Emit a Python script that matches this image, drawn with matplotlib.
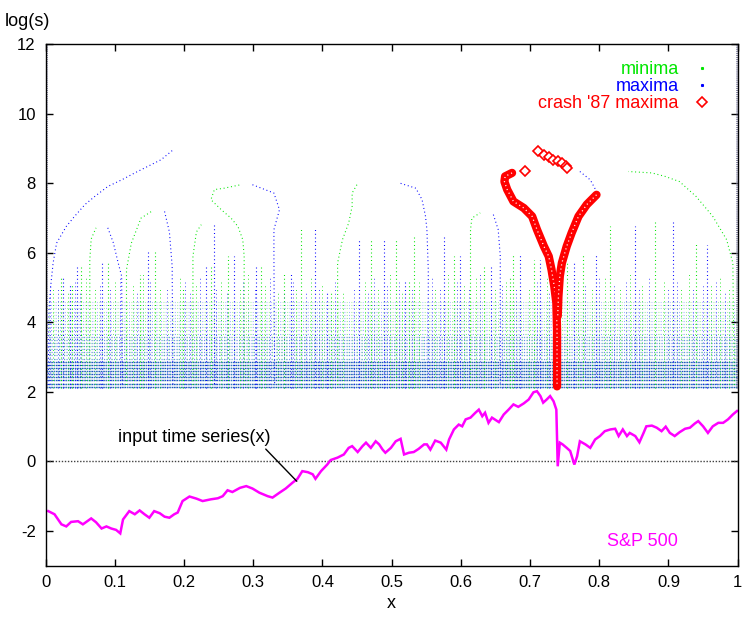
import numpy as np
import matplotlib
matplotlib.use("Agg")
import matplotlib.pyplot as plt
from matplotlib.lines import Line2D

plt.rcParams['font.family'] = ['Liberation Sans', 'DejaVu Sans']
plt.rcParams['lines.scale_dashes'] = False
plt.rcParams['axes.unicode_minus'] = False

# ---- input time series (S&P 500) ----
sp_x = [0.004, 0.013, 0.023, 0.030, 0.037, 0.047, 0.054, 0.066, 0.073, 0.081, 0.088, 0.095,
        0.102, 0.108, 0.112, 0.121, 0.129, 0.136, 0.143, 0.150, 0.157, 0.165, 0.172, 0.179,
        0.186, 0.191, 0.198, 0.208, 0.218, 0.227, 0.239, 0.249, 0.256, 0.263, 0.270, 0.281,
        0.290, 0.299, 0.309, 0.321, 0.328, 0.338, 0.347, 0.357, 0.364, 0.371, 0.379, 0.386,
        0.390, 0.398, 0.407, 0.412, 0.422, 0.431, 0.438, 0.443, 0.451, 0.458, 0.463, 0.470,
        0.477, 0.482, 0.487, 0.491, 0.499, 0.506, 0.513, 0.518, 0.525, 0.532, 0.539, 0.547,
        0.551, 0.556, 0.563, 0.571, 0.579, 0.583, 0.590, 0.597, 0.602, 0.607, 0.614, 0.621,
        0.626, 0.631, 0.635, 0.640, 0.645, 0.655, 0.662, 0.669, 0.676, 0.683, 0.691, 0.698,
        0.705, 0.710, 0.715, 0.719, 0.724, 0.729, 0.734, 0.738, 0.739, 0.740, 0.743, 0.747,
        0.753, 0.758, 0.764, 0.768, 0.772, 0.780, 0.787, 0.794, 0.801, 0.808, 0.816, 0.823,
        0.828, 0.834, 0.840, 0.844, 0.852, 0.858, 0.864, 0.868, 0.876, 0.883, 0.890, 0.896,
        0.902, 0.909, 0.916, 0.924, 0.931, 0.938, 0.943, 0.950, 0.957, 0.964, 0.972, 0.979,
        0.986, 0.993, 0.999]
sp_y = [-1.43, -1.52, -1.81, -1.87, -1.74, -1.72, -1.81, -1.64, -1.75, -1.93, -1.87, -1.93,
        -1.97, -2.07, -1.67, -1.43, -1.52, -1.41, -1.52, -1.62, -1.43, -1.49, -1.59, -1.62,
        -1.52, -1.47, -1.14, -1.01, -1.07, -1.14, -1.09, -1.06, -1.00, -0.83, -0.88, -0.76,
        -0.71, -0.78, -0.90, -1.00, -1.04, -0.90, -0.78, -0.61, -0.50, -0.28, -0.31, -0.37,
        -0.50, -0.28, -0.09, 0.04, 0.11, 0.20, 0.39, 0.44, 0.27, 0.44, 0.54, 0.39,
        0.58, 0.49, 0.34, 0.25, 0.39, 0.58, 0.65, 0.20, 0.25, 0.27, 0.36, 0.49,
        0.49, 0.34, 0.60, 0.54, 0.34, 0.63, 0.92, 1.06, 1.01, 1.21, 1.26, 1.40,
        1.49, 1.30, 1.40, 1.11, 1.26, 1.13, 1.35, 1.49, 1.64, 1.57, 1.67, 1.78,
        1.99, 2.02, 1.88, 1.69, 1.78, 1.88, 1.73, 1.49, 0.63, -0.14, 0.54, 0.49,
        0.39, 0.30, -0.09, 0.15, 0.58, 0.49, 0.39, 0.63, 0.73, 0.87, 0.92, 0.94,
        0.73, 0.92, 0.73, 0.82, 0.73, 0.55, 0.82, 1.01, 1.03, 0.97, 0.87, 1.00,
        0.82, 0.73, 0.84, 0.94, 0.97, 1.09, 1.16, 1.01, 0.82, 1.01, 1.11, 1.11,
        1.21, 1.35, 1.45]

# ---- small-scale part of the maxima/minima lines: rows of dots at these log(s) ----
band_levels = [2.15, 2.24, 2.33, 2.42, 2.51, 2.60, 2.69, 2.78, 2.87, 2.96, 3.05, 3.14,
               3.23, 3.32, 3.41, 3.50, 3.59, 3.68, 3.77, 3.86, 3.95, 4.04, 4.13, 4.22,
               4.31, 4.40, 4.49, 4.58]

# ---- short lines ending between log(s)=4.6 and 5.5 ----
fringe_min_x = [0.011, 0.033, 0.059, 0.071, 0.100, 0.127, 0.141, 0.165, 0.194, 0.218, 0.254,
                0.281, 0.293, 0.317, 0.336, 0.362, 0.383, 0.400, 0.430, 0.462, 0.480, 0.497,
                0.515, 0.540, 0.562, 0.582, 0.605, 0.622, 0.650, 0.665, 0.698, 0.725, 0.770,
                0.790, 0.808, 0.830, 0.845, 0.862, 0.893, 0.918, 0.930, 0.962, 0.975, 0.988]
fringe_min_top = [5.0, 4.9, 5.3, 5.0, 5.2, 5.1, 5.4, 5.0, 5.3, 5.1, 5.2,
                  5.0, 5.4, 5.1, 4.9, 5.0, 5.3, 5.1, 4.9, 5.2, 5.0, 5.4,
                  4.9, 5.2, 5.0, 5.4, 5.1, 5.3, 5.0, 5.2, 5.0, 5.3, 5.2,
                  5.0, 5.3, 5.0, 5.4, 5.1, 5.2, 5.0, 5.4, 5.1, 5.3, 5.0]
fringe_max_x = [0.006, 0.018, 0.043, 0.050, 0.079, 0.093, 0.108, 0.132, 0.151, 0.175, 0.202,
                0.209, 0.223, 0.247, 0.262, 0.286, 0.303, 0.324, 0.344, 0.358, 0.376, 0.395,
                0.418, 0.446, 0.466, 0.475, 0.493, 0.510, 0.530, 0.558, 0.570, 0.595, 0.612,
                0.628, 0.660, 0.680, 0.710, 0.728, 0.780, 0.800, 0.822, 0.838, 0.858, 0.872,
                0.900, 0.912, 0.935, 0.950, 0.968, 0.982]
fringe_max_top = [5.1, 5.0, 5.2, 4.9, 5.1, 5.0, 5.3, 4.9, 5.2, 5.0, 5.2,
                  4.9, 5.3, 5.0, 4.9, 5.2, 5.0, 5.3, 5.0, 5.2, 4.9, 5.0,
                  5.2, 5.0, 4.9, 5.3, 5.1, 5.2, 5.0, 5.3, 5.0, 5.2, 5.0,
                  5.4, 5.1, 5.0, 5.2, 4.9, 5.1, 5.3, 5.1, 5.2, 5.0, 5.3,
                  5.0, 5.2, 5.0, 5.1, 5.2, 4.9]

# ---- taller lines: x position and top log(s) ----
min_x = [0.023, 0.039, 0.052, 0.090, 0.136, 0.158, 0.199, 0.239, 0.263, 0.311, 0.345, 0.369,
         0.412, 0.470, 0.506, 0.525, 0.532, 0.590, 0.633, 0.671, 0.676, 0.705, 0.753, 0.777,
         0.816, 0.880, 0.940]
min_top = [5.34, 5.14, 5.66, 5.72, 5.37, 6.09, 5.00, 5.66, 5.90, 5.66, 5.43, 6.70,
           4.90, 6.43, 6.43, 5.20, 6.47, 5.90, 5.60, 5.30, 6.00, 5.80, 5.70, 6.00,
           6.76, 6.90, 6.30]
max_x = [0.026, 0.035, 0.045, 0.081, 0.148, 0.232, 0.273, 0.304, 0.354, 0.390, 0.407, 0.453,
         0.489, 0.520, 0.575, 0.599, 0.643, 0.686, 0.715, 0.763, 0.796, 0.852, 0.907, 0.955]
max_top = [5.34, 5.14, 5.66, 5.72, 6.09, 5.66, 5.90, 5.66, 5.43, 6.70, 4.90, 6.43,
           6.43, 5.20, 6.47, 5.90, 5.60, 6.00, 5.80, 5.70, 6.00, 6.76, 6.90, 6.24]

# ---- curved large-scale lines (x, log(s)) ----
min_curves = [
    [(0.064, 2.2), (0.064, 5.8), (0.066, 6.4), (0.073, 6.72)],
    [(0.117, 2.2), (0.117, 5.52), (0.124, 6.28), (0.138, 7.0), (0.153, 7.19)],
    [(0.213, 2.2), (0.213, 5.9), (0.218, 6.6), (0.225, 6.81)],
    [(0.287, 2.2), (0.287, 5.90), (0.285, 6.38), (0.278, 6.76), (0.268, 7.0), (0.254, 7.24),
     (0.239, 7.53), (0.244, 7.82), (0.258, 7.86), (0.282, 7.96)],
    [(0.422, 2.2), (0.422, 5.71), (0.429, 6.38), (0.438, 6.86), (0.443, 7.34), (0.443, 7.72),
     (0.451, 8.0)],
    [(0.614, 2.2), (0.614, 6.67), (0.616, 7.0), (0.628, 7.15)],
    [(0.995, 2.2), (0.993, 5.71), (0.984, 6.38), (0.964, 7.05), (0.940, 7.62), (0.916, 8.05),
     (0.895, 8.20), (0.876, 8.30), (0.842, 8.34)],
]
max_curves = [
    [(0.004, 2.2), (0.005, 4.37), (0.008, 5.14), (0.011, 5.71), (0.016, 6.28), (0.030, 6.76),
     (0.042, 7.05), (0.057, 7.39), (0.071, 7.62), (0.090, 7.91), (0.110, 8.10), (0.129, 8.30),
     (0.148, 8.49), (0.167, 8.68), (0.186, 8.99)],
    [(0.090, 6.72), (0.098, 6.29), (0.105, 5.71), (0.110, 5.33), (0.111, 2.2)],
    [(0.172, 7.19), (0.179, 6.6), (0.183, 5.61), (0.184, 2.2)],
    [(0.244, 6.81), (0.244, 2.2)],
    [(0.299, 7.96), (0.330, 7.72), (0.338, 7.24), (0.330, 6.67), (0.330, 5.90), (0.331, 2.2)],
    [(0.513, 8.0), (0.535, 7.86), (0.544, 7.53), (0.549, 7.05), (0.551, 6.67), (0.553, 5.5),
     (0.553, 2.2)],
    [(0.647, 7.1), (0.654, 6.67), (0.657, 5.9), (0.657, 2.2)],
    [(0.772, 8.34), (0.787, 8.10), (0.796, 7.77)],
]

# ---- crash '87 maxima line ----
crash_left = [(0.674, 8.30), (0.664, 8.20), (0.663, 8.05), (0.667, 7.82), (0.676, 7.48),
              (0.691, 7.29), (0.703, 7.05), (0.710, 6.67), (0.720, 6.19), (0.727, 5.90),
              (0.731, 5.52), (0.735, 5.04), (0.738, 4.56), (0.739, 3.79), (0.739, 2.16)]
crash_right = [(0.796, 7.67), (0.782, 7.39), (0.770, 7.05), (0.760, 6.57), (0.753, 6.19),
               (0.746, 5.71), (0.743, 5.33), (0.741, 4.75), (0.740, 4.18)]
crash_top = [(0.692, 8.36), (0.712, 8.92), (0.720, 8.82), (0.727, 8.76), (0.733, 8.68),
             (0.740, 8.63), (0.746, 8.58), (0.752, 8.51), (0.753, 8.44)]

GREEN = '#00e600'
BLUE = '#0000ff'
RED = '#ff0000'
MAG = '#ff00ff'
BASE = 2.12
DOTS = (0, (0.7, 2.0))

fig = plt.figure(figsize=(7.44, 6.25), dpi=100)
ax = fig.add_axes([45.5 / 744, 59.3 / 625, 692.2 / 744, 521.4 / 625])

# rows of dots at small scales: dense near the bottom, sparser higher up
for lev in band_levels:
    if lev < 2.9:
        ax.hlines(lev, 0, 1, colors='#1848c0', linewidth=1.0, alpha=0.95,
                  linestyles=[(0, (1.2, 0.5))])
        ax.hlines(lev, 0, 1, colors='#40d0a0', linewidth=1.0, alpha=0.6,
                  linestyles=[(1.2, (0.5, 1.7))])
    elif lev < 3.6:
        ax.hlines(lev, 0, 1, colors='#3060e0', linewidth=0.9, alpha=0.7,
                  linestyles=[(0, (0.8, 1.0))])
        ax.hlines(lev, 0, 1, colors='#40e060', linewidth=0.9, alpha=0.6,
                  linestyles=[(0.8, (0.6, 2.8))])
    else:
        a = float(np.interp(lev, [3.6, 4.6], [0.7, 0.4]))
        ax.hlines(lev, 0, 1, colors='#4060ff', linewidth=0.8, alpha=a,
                  linestyles=[(0, (0.7, 2.6))])
        ax.hlines(lev, 0, 1, colors='#30e030', linewidth=0.8, alpha=a,
                  linestyles=[(1.6, (0.7, 2.6))])

# individual lines
ax.vlines(fringe_min_x, BASE, fringe_min_top, colors=GREEN, linewidth=0.7, alpha=0.8,
          linestyles=[DOTS])
ax.vlines(fringe_max_x, BASE, fringe_max_top, colors=BLUE, linewidth=0.7, alpha=0.7,
          linestyles=[DOTS])
ax.vlines(min_x, BASE, min_top, colors=GREEN, linewidth=0.8, linestyles=[DOTS])
ax.vlines(max_x, BASE, max_top, colors=BLUE, linewidth=0.8, linestyles=[DOTS])
for c in min_curves:
    xs, ys = zip(*c)
    ax.plot(xs, ys, color=GREEN, lw=0.8, ls=DOTS)
for c in max_curves:
    xs, ys = zip(*c)
    ax.plot(xs, ys, color=BLUE, lw=0.8, ls=DOTS)

# edge lines at x=0 and x=1
ax.vlines([0.001, 0.999], BASE, 12, colors='#8080a0', linewidth=2.0, linestyles=[(0, (0.7, 0.7))])

# crash maxima line
for br in (crash_left, crash_right):
    xs, ys = zip(*br)
    ax.plot(xs, ys, color=RED, lw=6, solid_capstyle='round', solid_joinstyle='round')
    ax.plot(xs, ys, color='white', lw=0.9, ls=(0, (0.8, 2.2)))
tx, ty = zip(*crash_top)
ax.plot(tx, ty, ls='none', marker='D', ms=5, mfc='white', mec=RED, mew=1.2)

# input time series
ax.axhline(0, color='#404040', lw=1.0, ls=(0, (1.0, 1.2)))
ax.plot(sp_x, sp_y, color=MAG, lw=1.8, solid_joinstyle='miter')

ax.annotate('input time series(x)', xy=(0.363, -0.57), xytext=(0.105, 0.68),
            fontsize=13, ha='left', va='center',
            arrowprops=dict(arrowstyle='-', color='black', lw=1.0, shrinkA=0, shrinkB=0,
                            relpos=(0.95, 0.0)))
ax.text(0.811, -2.29, 'S&P 500', color=MAG, fontsize=13, ha='left', va='center')

handles = [Line2D([], [], ls='none', marker='s', ms=1.2, color=GREEN),
           Line2D([], [], ls='none', marker='s', ms=1.2, color=BLUE),
           Line2D([], [], ls='none', marker='D', ms=5, mfc='white', mec=RED, mew=1.2)]
leg = ax.legend(handles, ['minima', 'maxima', "crash '87 maxima"], loc='upper right',
                bbox_to_anchor=(0.975, 0.985), frameon=False, markerfirst=False,
                fontsize=13, labelspacing=0.0, handlelength=1.0, handletextpad=0.8,
                borderpad=0.0, labelcolor=[GREEN, BLUE, RED])

ax.set_xlim(0, 1)
ax.set_ylim(-3, 12)
ax.set_xticks(np.arange(0, 1.01, 0.1))
ax.set_xticklabels(['0', '0.1', '0.2', '0.3', '0.4', '0.5', '0.6', '0.7', '0.8', '0.9', '1'])
ax.set_yticks([-2, 0, 2, 4, 6, 8, 10, 12])
ax.tick_params(direction='in', length=5, width=1, top=True, right=True, labelsize=12, pad=7)
for s in ax.spines.values():
    s.set_linewidth(1.0)

fig.text(5 / 744, 1 - 22 / 625, 'log(s)', fontsize=13, ha='left', va='center')
fig.text(391 / 744, 1 - 604 / 625, 'x', fontsize=13, ha='center', va='center')

fig.savefig('out.png', dpi=100)
